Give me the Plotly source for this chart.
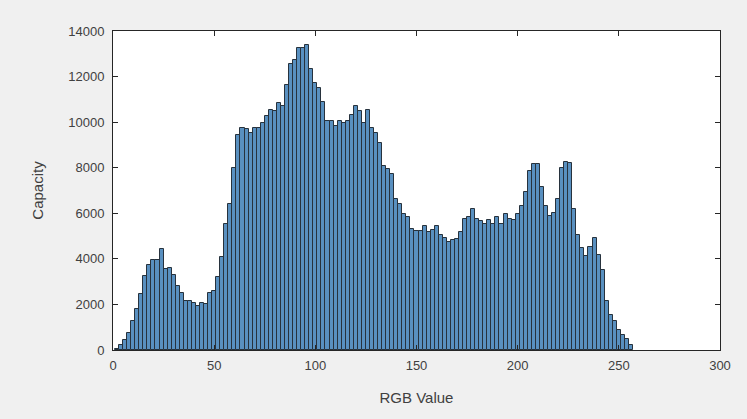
import plotly.graph_objects as go

bin_centers = list(range(2, 257, 2))
capacity = [
    30, 200, 440, 760, 1280, 1790, 2470, 3230, 3710, 3930,
    3930, 4430, 3550, 3600, 3290, 2790, 2520, 2130, 2130, 2080,
    1910, 2050, 2030, 2500, 2610, 3190, 4070, 5530, 6420, 7970,
    9420, 9760, 9720, 9510, 9760, 9760, 9950, 10280, 10540, 10500,
    10830, 10690, 11640, 12550, 12740, 13240, 13240, 13390, 12330, 11710,
    11520, 10890, 10060, 10060, 9840, 10060, 9980, 10060, 10310, 10720,
    10500, 9980, 10540, 9760, 9510, 9100, 8070, 7930, 7710, 6610,
    6420, 5970, 5830, 5330, 5210, 5210, 5460, 5170, 5280, 5460,
    5060, 4920, 4730, 4820, 4870, 5180, 5730, 5830, 6210, 5750,
    5650, 5510, 5700, 5510, 5830, 5550, 5970, 5770, 5700, 5970,
    6340, 6930, 7850, 8180, 8180, 7160, 6340, 5870, 6020, 6610,
    7970, 8250, 8220, 6200, 5060, 4480, 4110, 4520, 4920, 4180,
    3490, 2170, 1540, 1280, 880, 660, 470, 220,
]
x_ticks = [0, 50, 100, 150, 200, 250, 300]
y_ticks = [0, 2000, 4000, 6000, 8000, 10000, 12000, 14000]

fig = go.Figure(go.Bar(
    x=bin_centers, y=capacity, width=2,
    marker=dict(color="#5990c0", line=dict(color="#27323d", width=1)),
))

font_family = "Liberation Sans, Arial"
axis_common = dict(
    showline=True, linecolor="#262626", linewidth=1, mirror="ticks",
    ticks="inside", ticklen=5, tickcolor="#262626", showgrid=False,
    zeroline=False, automargin=False,
    tickfont=dict(family=font_family, size=13, color="#404040"),
)
fig.update_layout(
    width=747, height=419,
    margin=dict(l=113, r=27, t=31, b=69),
    paper_bgcolor="#f0f0f0", plot_bgcolor="#ffffff",
    bargap=0, showlegend=False,
    xaxis=dict(range=[0, 300], tickvals=x_ticks, ticktext=[str(v) for v in x_ticks],
               ticklabelstandoff=3,
               title=dict(text="RGB Value", font=dict(family=font_family, size=15, color="#404040"), standoff=20),
               **axis_common),
    yaxis=dict(range=[0, 14000], tickvals=y_ticks, ticktext=[str(v) for v in y_ticks],
               ticklabelstandoff=5,
               title=dict(text="Capacity", font=dict(family=font_family, size=15, color="#404040"), standoff=20),
               **axis_common),
)
fig.write_html(
    "out.html",
    config={"displayModeBar": False},
    post_script="document.body.style.margin='0';document.body.style.background='#f0f0f0';",
)
